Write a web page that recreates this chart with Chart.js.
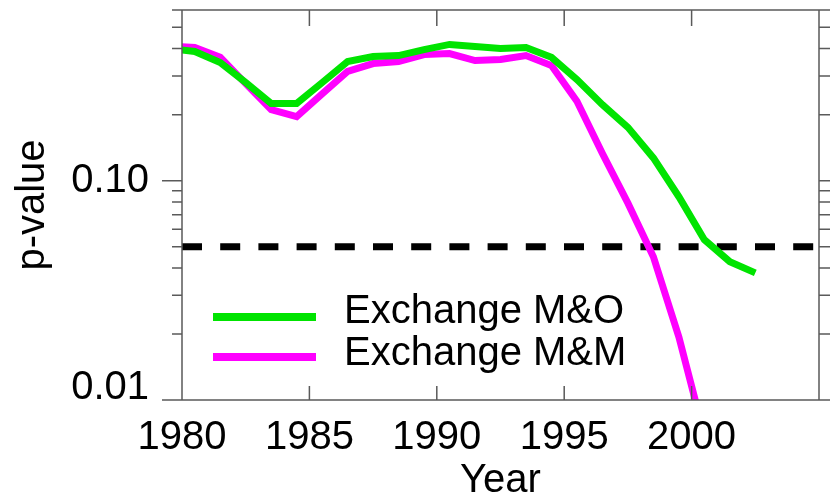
<!DOCTYPE html>
<html>
<head>
<meta charset="utf-8">
<script src="https://cdn.jsdelivr.net/npm/chart.js@4.4.1/dist/chart.umd.min.js"></script>
<style>
  html, body { margin: 0; padding: 0; background: #fff; }
  #wrap { width: 837px; height: 501px; }
</style>
</head>
<body>
<div id="wrap"><canvas id="pChart"></canvas></div>
<script>
// values are plotted at mid-year
const years = [1979.5, 1980.5, 1981.5, 1982.5, 1983.5, 1984.5, 1985.5, 1986.5, 1987.5, 1988.5, 1989.5, 1990.5,
               1991.5, 1992.5, 1993.5, 1994.5, 1995.5, 1996.5, 1997.5, 1998.5, 1999.5, 2000.5, 2001.5, 2002.5];
const exchangeMO = [0.40, 0.388, 0.346, 0.280, 0.225, 0.225, 0.280, 0.349, 0.368, 0.372, 0.396, 0.418,
                    0.409, 0.401, 0.405, 0.365, 0.289, 0.222, 0.175, 0.127, 0.0845, 0.0538, 0.0427, 0.0380];
const exchangeMM = [0.41, 0.405, 0.365, 0.277, 0.211, 0.196, 0.249, 0.315, 0.342, 0.349, 0.376, 0.380,
                    0.353, 0.357, 0.372, 0.335, 0.230, 0.133, 0.079, 0.045, 0.0194, 0.0069];
const cutoff = 0.05;
const xRange = [1980, 2005];
const xTicks = [1980, 1985, 1990, 1995, 2000, 2005];
const yTicks = [0.01, 0.02, 0.03, 0.04, 0.05, 0.06, 0.07, 0.08, 0.09, 0.1, 0.2, 0.3, 0.4, 0.5, 0.6];
const yMajor = [0.01, 0.1];

const font = '"Liberation Sans", Arial, sans-serif';
const ink = '#000';
const frameColor = '#5a5a5a';

const toPoints = (vals) => vals.map((v, i) => ({ x: years[i], y: v }));

// box, tick marks (left/right outward, top/bottom inward)
const framePlugin = {
    id: 'frame',
    afterDatasetsDraw(chart) {
        const { ctx, chartArea: a, scales: { x, y } } = chart;
        ctx.save();
        ctx.strokeStyle = frameColor;
        ctx.lineWidth = 1.5;
        ctx.beginPath();
        ctx.rect(a.left, a.top, a.right - a.left, a.bottom - a.top);
        y.ticks.forEach(t => {
            const py = y.getPixelForValue(t.value);
            const len = yMajor.includes(t.value) ? 20 : 10;
            ctx.moveTo(a.left - len, py); ctx.lineTo(a.left, py);
            ctx.moveTo(a.right, py); ctx.lineTo(a.right + 11, py);
        });
        x.ticks.forEach(t => {
            const px = x.getPixelForValue(t.value);
            ctx.moveTo(px, a.bottom); ctx.lineTo(px, a.bottom - 14);
            ctx.moveTo(px, a.top); ctx.lineTo(px, a.top + 16);
        });
        ctx.stroke();
        ctx.restore();
    }
};

// legend sits inside the plot, lower left
const legendPlugin = {
    id: 'insideLegend',
    afterDatasetsDraw(chart) {
        const { ctx } = chart;
        const rows = chart.data.datasets.filter(d => !d.noLegend);
        ctx.save();
        ctx.font = '40px ' + font;
        ctx.fillStyle = ink;
        ctx.textBaseline = 'alphabetic';
        rows.forEach((d, i) => {
            const ly = 317 + i * 40;
            ctx.strokeStyle = d.borderColor;
            ctx.lineWidth = 8;
            ctx.beginPath();
            ctx.moveTo(213, ly); ctx.lineTo(316, ly);
            ctx.stroke();
            ctx.fillText(d.label, 344, 323 + i * 42);
        });
        ctx.restore();
    }
};

new Chart(document.getElementById('pChart'), {
    type: 'line',
    data: {
        datasets: [
            {
                label: 'Exchange M&O',
                data: toPoints(exchangeMO),
                borderColor: '#00e400',
                borderWidth: 7,
                pointRadius: 0,
                clip: 0
            },
            {
                label: 'Exchange M&M',
                data: toPoints(exchangeMM),
                borderColor: '#ff00ff',
                borderWidth: 7,
                pointRadius: 0,
                clip: 0
            },
            {
                label: 'p = 0.05',
                noLegend: true,
                data: [{ x: xRange[0], y: cutoff }, { x: xRange[1], y: cutoff }],
                borderColor: '#000',
                borderWidth: 7,
                borderDash: [20, 18.2],
                borderCapStyle: 'butt',
                pointRadius: 0,
                clip: 0
            }
        ]
    },
    options: {
        responsive: true,
        maintainAspectRatio: false,
        animation: false,
        layout: { padding: { top: 10, right: 11, left: 0, bottom: 0 } },
        plugins: { legend: { display: false }, tooltip: { enabled: false } },
        scales: {
            x: {
                type: 'linear',
                min: xRange[0],
                max: xRange[1],
                afterBuildTicks: s => { s.ticks = xTicks.map(v => ({ value: v })); },
                afterFit: s => { s.height = 101; },
                grid: { display: false, drawTicks: false },
                border: { display: false },
                ticks: {
                    autoSkip: false,
                    maxRotation: 0,
                    padding: 18,
                    color: ink,
                    font: { family: font, size: 40, lineHeight: 1 },
                    callback: v => v === xRange[1] ? '' : String(v)
                },
                title: {
                    display: true, text: 'Year', color: ink,
                    font: { family: font, size: 40, lineHeight: 1 },
                    padding: { top: 0, bottom: 0 }
                }
            },
            y: {
                type: 'logarithmic',
                min: 0.01,
                max: 0.6,
                afterBuildTicks: s => { s.ticks = yTicks.map(v => ({ value: v })); },
                afterFit: s => { s.width = 182; s.paddingTop = 0; s.paddingBottom = 0; },
                grid: { display: false, drawTicks: false },
                border: { display: false },
                ticks: {
                    autoSkip: false,
                    padding: 33,
                    color: ink,
                    font: { family: font, size: 40, lineHeight: 0.6 },
                    // the 0.01 label is nudged up, off the corner
                    callback: v => v === 0.1 ? '0.10' : (v === 0.01 ? ['0.01', ''] : '')
                },
                title: {
                    display: true, text: 'p-value', color: ink,
                    font: { family: font, size: 40, lineHeight: 1 },
                    padding: { top: 13, bottom: 0 }
                }
            }
        }
    },
    plugins: [framePlugin, legendPlugin]
});
</script>
</body>
</html>
